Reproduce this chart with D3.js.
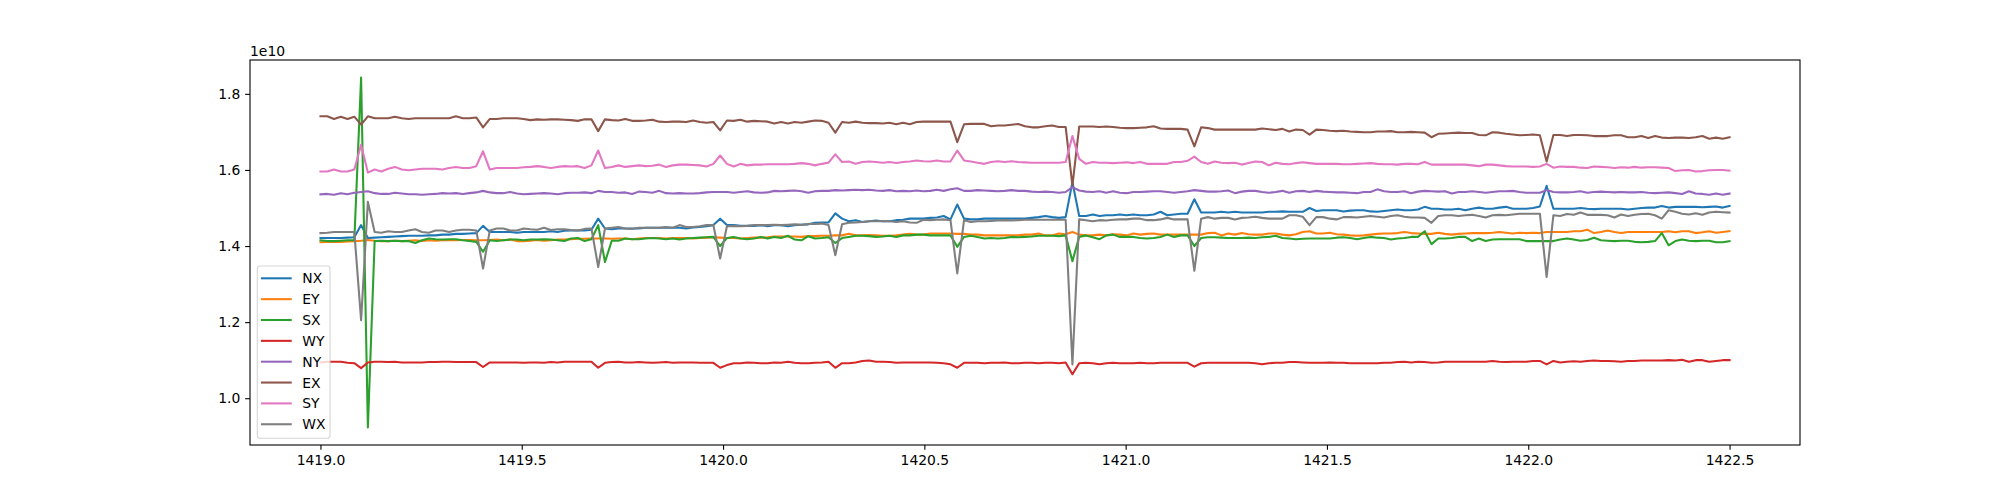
<!DOCTYPE html>
<html><head><meta charset="utf-8">
<script src="https://cdn.jsdelivr.net/npm/d3@7"></script>
<style>html,body{margin:0;padding:0;background:#fff;} svg{display:block;} text{font-family:"DejaVu Sans",sans-serif;}</style>
</head><body><svg id="chart" width="2000" height="500"></svg>
<script>
// ---------------- data ----------------
const SERIES_NAMES = ["NX", "EY", "SX", "WY", "NY", "EX", "SY", "WX"];
const SERIES_COLORS = ["#1f77b4", "#ff7f0e", "#2ca02c", "#d62728", "#9467bd", "#8c564b", "#e377c2", "#7f7f7f"];
// uniformly sampled time axis
const T_START = 1419.0;
const T_END = 1422.5;
// series values are given in units of 1e7
const VALUE_UNIT = 1e7;

const NX = [
1421,1421,1421,1421,1422,1423,1455,1421,1422,1423,1424,1425,1426,1427,1427,1427,1428,1428,1430,1430,1432,1432,1433,1434,1453,1437,1437,1437,1437,
1435,1437,1437,1437,1437,1439,1437,1440,1441,1441,1441,1443,1472,1446,1444,1446,1446,1446,1446,1448,1448,1448,1448,1448,1448,1446,1449,1450,1452,1455,1472,
1455,1455,1453,1453,1453,1455,1452,1455,1455,1452,1455,1456,1457,1461,1462,1462,1486,1472,1465,1468,1463,1465,1467,1465,1465,1468,1469,1472,1472,
1472,1474,1475,1479,1470,1509,1472,1470,1470,1472,1472,1472,1472,1472,1472,1472,1474,1476,1479,1476,1474,1476,1568,1479,1479,1483,1479,1481,1481,1483,
1481,1483,1481,1481,1483,1490,1481,1483,1485,1485,1523,1488,1488,1488,1490,1488,1490,1488,1488,1488,1488,1490,1490,1491,1490,1490,1490,1500,1492,1494,
1494,1494,1491,1493,1494,1494,1491,1490,1492,1494,1496,1494,1494,1496,1503,1498,1498,1496,1496,1498,1494,1498,1501,1498,1498,1501,1503,1498,1498,1498,1500,
1504,1558,1498,1498,1498,1498,1500,1498,1497,1498,1498,1498,1498,1496,1498,1500,1501,1501,1505,1501,1503,1503,1503,1503,1502,1503,1504,1501,1505];

const EY = [
1410,1411,1411,1411,1412,1413,1414,1416,1414,1413,1413,1414,1413,1414,1415,1413,1415,1414,1415,1416,1415,1416,1416,1415,1415,1416,1417,1415,1417,
1413,1413,1414,1416,1414,1415,1417,1417,1418,1419,1419,1420,1420,1420,1419,1420,1420,1418,1420,1421,1421,1421,1420,1421,1421,1421,1420,1421,1422,1423,1422,
1421,1421,1420,1421,1422,1422,1423,1425,1425,1425,1425,1424,1426,1426,1427,1427,1428,1428,1432,1428,1428,1429,1428,1427,1427,1428,1430,1432,1430,
1430,1433,1433,1433,1433,1432,1432,1430,1430,1428,1428,1428,1428,1428,1428,1430,1430,1433,1428,1428,1433,1431,1437,1430,1428,1428,1430,1428,1431,1430,
1428,1433,1430,1432,1433,1430,1430,1430,1430,1430,1430,1430,1434,1435,1428,1433,1430,1434,1431,1430,1430,1433,1433,1430,1428,1431,1437,1439,1433,1433,
1435,1431,1430,1428,1427,1428,1430,1432,1433,1433,1434,1437,1434,1433,1432,1432,1435,1432,1430,1432,1433,1434,1434,1434,1435,1437,1435,1433,1435,1434,1435,
1434,1437,1437,1437,1437,1439,1439,1443,1434,1437,1441,1437,1434,1437,1437,1437,1437,1437,1437,1439,1436,1439,1439,1434,1436,1439,1435,1437,1439];

const SX = [
1415,1413,1413,1414,1415,1415,1843,923,1413,1414,1413,1414,1413,1413,1408,1415,1420,1418,1417,1418,1418,1415,1413,1411,1385,1415,1413,1415,1417,
1417,1415,1417,1417,1418,1417,1415,1413,1420,1421,1413,1418,1455,1358,1414,1414,1420,1418,1418,1420,1421,1420,1418,1420,1417,1420,1421,1422,1423,1424,1400,
1421,1424,1420,1418,1420,1424,1420,1424,1421,1427,1417,1415,1426,1420,1421,1423,1408,1421,1424,1427,1427,1426,1424,1425,1427,1424,1428,1428,1430,
1430,1428,1428,1428,1428,1398,1424,1427,1424,1420,1421,1420,1421,1424,1423,1424,1425,1427,1427,1427,1426,1428,1360,1424,1428,1423,1418,1428,1430,1424,
1424,1424,1421,1420,1421,1424,1430,1424,1428,1428,1400,1421,1423,1423,1422,1421,1421,1421,1422,1421,1423,1424,1427,1421,1420,1418,1419,1420,1420,1420,
1420,1422,1423,1421,1418,1421,1424,1422,1421,1417,1420,1421,1424,1424,1439,1405,1420,1420,1421,1424,1424,1413,1420,1413,1417,1418,1418,1418,1418,1413,1413,
1413,1413,1413,1417,1420,1417,1414,1416,1422,1415,1414,1413,1414,1414,1411,1410,1411,1413,1434,1402,1413,1417,1414,1413,1414,1414,1410,1410,1413];

const WY = [
1094,1096,1096,1096,1093,1092,1079,1094,1096,1096,1095,1096,1094,1094,1094,1094,1095,1095,1096,1096,1095,1095,1095,1095,1082,1094,1094,1094,1094,
1094,1093,1094,1094,1093,1095,1094,1096,1096,1096,1096,1096,1080,1093,1095,1096,1094,1094,1095,1094,1093,1094,1095,1093,1094,1094,1094,1093,1093,1093,1080,
1087,1092,1092,1094,1093,1092,1092,1094,1093,1096,1093,1092,1092,1093,1094,1096,1080,1092,1092,1094,1098,1099,1096,1096,1095,1093,1094,1094,1094,
1094,1094,1093,1092,1089,1080,1093,1093,1093,1092,1093,1093,1094,1092,1092,1093,1093,1092,1093,1093,1092,1094,1063,1092,1093,1092,1089,1092,1093,1092,
1092,1092,1093,1092,1092,1093,1093,1093,1093,1093,1083,1092,1093,1093,1093,1093,1093,1093,1093,1092,1089,1092,1093,1093,1095,1095,1094,1093,1093,1093,
1094,1093,1093,1092,1092,1092,1092,1092,1093,1093,1095,1096,1094,1096,1095,1093,1094,1096,1096,1096,1096,1096,1096,1096,1098,1096,1095,1096,1096,1096,1098,
1098,1089,1098,1094,1096,1097,1096,1098,1099,1098,1098,1097,1096,1098,1098,1099,1099,1099,1099,1100,1099,1101,1096,1100,1100,1096,1098,1100,1100];

const NY = [
1536,1537,1535,1539,1536,1540,1542,1544,1539,1537,1537,1540,1538,1536,1536,1535,1536,1537,1539,1538,1539,1537,1539,1541,1545,1541,1539,1539,1542,
1538,1536,1537,1538,1539,1538,1536,1539,1540,1540,1541,1539,1545,1542,1542,1540,1541,1537,1543,1542,1540,1545,1539,1538,1539,1538,1538,1539,1541,1542,1542,
1542,1540,1542,1544,1541,1540,1541,1545,1544,1545,1546,1544,1540,1544,1545,1545,1547,1546,1547,1548,1547,1548,1546,1545,1547,1544,1545,1544,1546,
1544,1545,1548,1545,1549,1552,1545,1545,1547,1546,1545,1544,1545,1547,1545,1545,1543,1542,1543,1542,1540,1542,1555,1546,1543,1542,1544,1540,1544,1540,
1539,1542,1542,1543,1544,1544,1542,1540,1542,1544,1547,1545,1543,1543,1544,1546,1539,1543,1545,1545,1542,1540,1542,1545,1540,1544,1545,1542,1545,1543,
1542,1541,1541,1540,1539,1542,1542,1549,1544,1542,1542,1544,1539,1543,1545,1544,1543,1544,1538,1542,1542,1544,1542,1540,1542,1544,1544,1545,1542,1540,1540,
1540,1547,1542,1541,1541,1542,1544,1540,1542,1543,1542,1541,1542,1541,1541,1542,1540,1539,1540,1541,1539,1537,1544,1538,1537,1535,1538,1535,1538];

const EX = [
1741,1741,1734,1740,1734,1740,1719,1741,1736,1736,1736,1740,1736,1734,1736,1736,1736,1736,1736,1736,1741,1736,1736,1738,1712,1734,1734,1736,1736,
1736,1734,1731,1733,1732,1733,1733,1732,1731,1729,1733,1733,1702,1733,1731,1730,1734,1729,1729,1730,1732,1727,1726,1727,1727,1726,1730,1726,1724,1726,1704,
1730,1729,1732,1727,1729,1728,1727,1722,1726,1722,1726,1724,1727,1730,1729,1724,1698,1726,1724,1727,1724,1723,1723,1722,1724,1720,1724,1720,1726,
1727,1727,1727,1727,1727,1673,1720,1721,1721,1721,1715,1717,1717,1719,1721,1715,1712,1712,1715,1717,1713,1713,1559,1714,1714,1714,1713,1714,1713,1711,
1710,1710,1711,1712,1715,1709,1708,1708,1708,1706,1662,1712,1710,1706,1706,1706,1706,1706,1706,1706,1709,1707,1705,1708,1701,1706,1705,1693,1706,1705,
1703,1702,1703,1701,1700,1699,1699,1701,1701,1702,1699,1699,1700,1699,1698,1686,1695,1696,1697,1698,1697,1697,1692,1691,1699,1698,1695,1693,1691,1692,1693,
1691,1622,1692,1692,1689,1692,1692,1691,1689,1689,1689,1691,1691,1686,1686,1689,1684,1689,1685,1684,1685,1685,1684,1686,1689,1682,1685,1682,1686];

const SY = [
1596,1596,1601,1596,1596,1601,1666,1593,1601,1596,1603,1608,1601,1599,1601,1603,1603,1603,1601,1605,1608,1605,1605,1610,1649,1601,1605,1605,1605,
1605,1607,1608,1610,1608,1605,1608,1610,1609,1610,1605,1612,1651,1605,1608,1612,1608,1610,1612,1610,1611,1614,1608,1612,1614,1614,1613,1612,1609,1616,1638,
1616,1609,1616,1612,1614,1614,1615,1615,1615,1615,1616,1618,1616,1612,1616,1619,1641,1621,1622,1616,1621,1622,1621,1619,1621,1618,1621,1622,1625,
1623,1622,1625,1622,1622,1651,1625,1622,1619,1616,1621,1623,1621,1623,1621,1620,1619,1619,1619,1619,1619,1621,1689,1629,1616,1621,1619,1619,1618,1619,
1620,1618,1621,1616,1616,1616,1616,1621,1621,1624,1635,1621,1616,1622,1619,1618,1619,1614,1618,1622,1621,1612,1619,1616,1615,1618,1620,1618,1616,1616,
1616,1616,1615,1615,1616,1617,1618,1616,1615,1615,1614,1616,1616,1615,1621,1614,1614,1614,1614,1614,1614,1612,1610,1614,1614,1612,1610,1609,1609,1609,1608,
1609,1616,1606,1609,1608,1608,1606,1605,1609,1608,1607,1605,1607,1606,1608,1606,1607,1607,1606,1605,1597,1599,1600,1596,1597,1599,1600,1600,1598];

const WX = [
1434,1435,1437,1437,1437,1437,1205,1516,1437,1435,1439,1437,1437,1441,1444,1437,1435,1441,1441,1437,1441,1443,1443,1441,1341,1441,1446,1446,1441,
1441,1446,1444,1443,1448,1442,1444,1444,1442,1441,1445,1446,1345,1446,1448,1450,1446,1445,1448,1448,1448,1448,1450,1448,1455,1450,1450,1452,1455,1455,1367,
1452,1453,1452,1453,1455,1455,1455,1456,1455,1456,1457,1456,1458,1458,1459,1455,1376,1457,1461,1462,1463,1465,1465,1466,1465,1463,1465,1462,1461,
1469,1468,1469,1470,1468,1328,1468,1463,1465,1465,1466,1467,1468,1467,1468,1469,1469,1469,1469,1469,1469,1469,1089,1470,1468,1465,1468,1467,1469,1470,
1470,1472,1472,1468,1468,1470,1474,1470,1470,1470,1335,1472,1476,1472,1474,1474,1470,1474,1475,1477,1474,1472,1472,1472,1481,1481,1477,1455,1476,1476,
1472,1470,1476,1476,1475,1477,1479,1477,1475,1479,1481,1477,1475,1475,1474,1461,1479,1481,1481,1479,1481,1482,1479,1475,1481,1482,1481,1483,1485,1485,1485,
1485,1319,1481,1479,1484,1482,1488,1482,1482,1482,1481,1475,1483,1479,1482,1484,1485,1481,1472,1494,1490,1485,1483,1486,1482,1488,1490,1489,1488];

const X_TICKS = [1419.0, 1419.5, 1420.0, 1420.5, 1421.0, 1421.5, 1422.0, 1422.5];
const Y_TICKS = [1.0e10, 1.2e10, 1.4e10, 1.6e10, 1.8e10];
const Y_OFFSET_LABEL = "1e10";

// ---------------- build ----------------
const seriesValues = [NX, EY, SX, WY, NY, EX, SY, WX];
const N = NX.length;
const times = d3.range(N).map(i => T_START + i * (T_END - T_START) / (N - 1));
const series = SERIES_NAMES.map((name, k) => ({
  name, color: SERIES_COLORS[k],
  points: seriesValues[k].map((v, i) => ({ t: times[i], v: v * VALUE_UNIT }))
}));

const W = 2000, H = 500;
const M = { left: 250, right: 1800, top: 60, bottom: 445 };
const svg = d3.select("#chart");
svg.append("rect").attr("width", W).attr("height", H).attr("fill", "#fff");

const tExt = d3.extent(times);
const vExt = d3.extent(series.flatMap(s => s.points.map(p => p.v)));
const tPad = (tExt[1] - tExt[0]) * 0.05, vPad = (vExt[1] - vExt[0]) * 0.05;
const x = d3.scaleLinear().domain([tExt[0] - tPad, tExt[1] + tPad]).range([M.left, M.right]);
const y = d3.scaleLinear().domain([vExt[0] - vPad, vExt[1] + vPad]).range([M.bottom, M.top]);

const FS = 13.9;
const tick = 4.86;

svg.append("clipPath").attr("id", "clip").append("rect")
  .attr("x", M.left).attr("y", M.top).attr("width", M.right - M.left).attr("height", M.bottom - M.top);

const line = d3.line().x(d => x(d.t)).y(d => y(d.v));
const gLines = svg.append("g").attr("clip-path", "url(#clip)");
series.forEach(s => {
  gLines.append("path").datum(s.points).attr("d", line)
    .attr("fill", "none").attr("stroke", s.color).attr("stroke-width", 2.08)
    .attr("stroke-linejoin", "round").attr("stroke-linecap", "square");
});

// axes
const xAxis = d3.axisBottom(x).tickValues(X_TICKS).tickFormat(d => d.toFixed(1))
  .tickSize(tick).tickPadding(tick).tickSizeOuter(0);
const gx = svg.append("g").attr("transform", `translate(0,${M.bottom})`).call(xAxis);
const yAxis = d3.axisLeft(y).tickValues(Y_TICKS).tickFormat(d => (d / 1e10).toFixed(1))
  .tickSize(tick).tickPadding(tick).tickSizeOuter(0);
const gy = svg.append("g").attr("transform", `translate(${M.left},0)`).call(yAxis);
[gx, gy].forEach(g => {
  g.attr("font-size", FS).attr("font-family", '"DejaVu Sans", sans-serif');
  g.select(".domain").remove();
  g.selectAll(".tick line").attr("stroke", "#000").attr("stroke-width", 1.1);
  g.selectAll(".tick text").attr("fill", "#000");
});

// spines
svg.append("rect").attr("x", M.left).attr("y", M.top)
  .attr("width", M.right - M.left).attr("height", M.bottom - M.top)
  .attr("fill", "none").attr("stroke", "#000").attr("stroke-width", 1.1);

// offset text
svg.append("text").attr("x", M.left).attr("y", 55.5).attr("font-size", FS)
  .attr("fill", "#000").text(Y_OFFSET_LABEL);

// legend
const lg = svg.append("g");
const lgX = 257.3, lgY = 266, lgW = 72.7, lgH = 172.3;
lg.append("rect").attr("x", lgX).attr("y", lgY).attr("width", lgW).attr("height", lgH)
  .attr("rx", 2.8).attr("ry", 2.8)
  .attr("fill", "#fff").attr("fill-opacity", 0.8)
  .attr("stroke", "#cccccc").attr("stroke-opacity", 0.8).attr("stroke-width", 1.1);
const rowStep = 20.85, row0 = 278.3;
series.forEach((s, k) => {
  const cy = row0 + k * rowStep;
  lg.append("line").attr("x1", 262).attr("x2", 290.7).attr("y1", cy).attr("y2", cy)
    .attr("stroke", s.color).attr("stroke-width", 2.08).attr("stroke-linecap", "square");
  lg.append("text").attr("x", 302.3).attr("y", cy).attr("dy", "0.36em")
    .attr("font-size", FS).attr("fill", "#000").text(s.name);
});
</script>
</body></html>
